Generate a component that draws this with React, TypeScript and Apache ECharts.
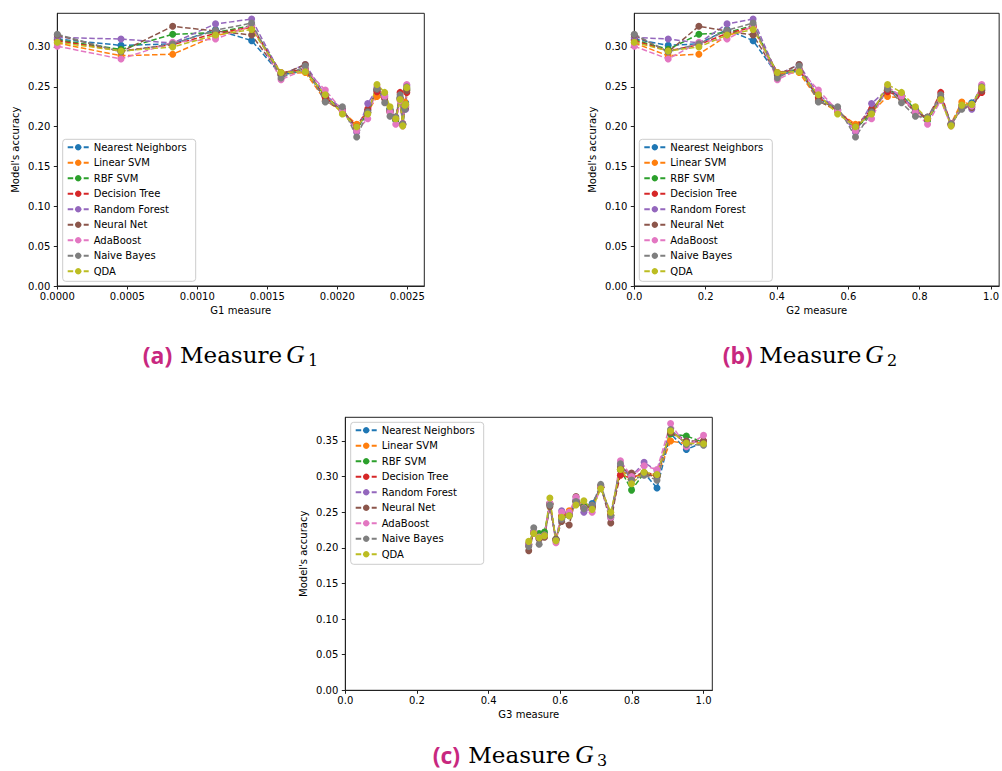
import React, { useEffect, useRef } from "react";
import * as echarts from "echarts";

// ---- categories / series ----
const seriesNames = [
  "Nearest Neighbors",
  "Linear SVM",
  "RBF SVM",
  "Decision Tree",
  "Random Forest",
  "Neural Net",
  "AdaBoost",
  "Naive Bayes",
  "QDA",
];
const seriesColors = ["#1f77b4", "#ff7f0e", "#2ca02c", "#d62728", "#9467bd", "#8c564b", "#e377c2", "#7f7f7f", "#bcbd22"];

// ---- x values (measures) ----
const g1Measure = [0, 0.000455, 0.000824, 0.00113, 0.001388, 0.001598, 0.001771, 0.001914, 0.002036, 0.002138, 0.002217, 0.002283, 0.002338, 0.002376, 0.002417, 0.002448, 0.002467, 0.002482, 0.002488, 0.002496];
const g2Measure = [0, 0.095, 0.181, 0.26, 0.333, 0.401, 0.462, 0.516, 0.57, 0.62, 0.665, 0.71, 0.749, 0.788, 0.822, 0.859, 0.888, 0.918, 0.946, 0.974];
const g3Measure = [0.512, 0.526, 0.541, 0.556, 0.571, 0.588, 0.604, 0.625, 0.644, 0.666, 0.689, 0.713, 0.741, 0.768, 0.799, 0.834, 0.87, 0.908, 0.952, 1.0];

// ---- accuracy values for G1 / G2 (same points, different measure) ----
const accNearestNeighborsG12 = [0.31, 0.302, 0.304, 0.322, 0.308, 0.265, 0.27, 0.236, 0.22, 0.196, 0.22, 0.245, 0.238, 0.222, 0.209, 0.236, 0.203, 0.226, 0.23, 0.248];
const accLinearSVMG12 = [0.305, 0.289, 0.291, 0.314, 0.325, 0.266, 0.268, 0.233, 0.219, 0.203, 0.218, 0.238, 0.236, 0.22, 0.21, 0.234, 0.204, 0.231, 0.228, 0.247];
const accRBFSVMG12 = [0.309, 0.297, 0.316, 0.318, 0.327, 0.267, 0.272, 0.238, 0.221, 0.197, 0.217, 0.246, 0.24, 0.221, 0.208, 0.235, 0.203, 0.226, 0.227, 0.246];
const accDecisionTreeG12 = [0.308, 0.295, 0.303, 0.317, 0.325, 0.268, 0.272, 0.237, 0.22, 0.2, 0.222, 0.244, 0.237, 0.219, 0.21, 0.243, 0.202, 0.225, 0.225, 0.243];
const accRandomForestG12 = [0.312, 0.31, 0.305, 0.329, 0.335, 0.265, 0.278, 0.24, 0.222, 0.193, 0.229, 0.247, 0.239, 0.22, 0.211, 0.235, 0.204, 0.224, 0.222, 0.252];
const accNeuralNetG12 = [0.315, 0.294, 0.326, 0.32, 0.315, 0.265, 0.278, 0.232, 0.221, 0.198, 0.22, 0.247, 0.235, 0.218, 0.212, 0.237, 0.203, 0.224, 0.224, 0.245];
const accAdaBoostG12 = [0.301, 0.285, 0.306, 0.31, 0.327, 0.259, 0.272, 0.246, 0.22, 0.195, 0.21, 0.25, 0.238, 0.218, 0.203, 0.233, 0.201, 0.226, 0.226, 0.253];
const accNaiveBayesG12 = [0.316, 0.294, 0.304, 0.321, 0.33, 0.261, 0.276, 0.231, 0.225, 0.187, 0.218, 0.248, 0.23, 0.213, 0.212, 0.24, 0.203, 0.222, 0.228, 0.25];
const accQDAG12 = [0.306, 0.295, 0.3, 0.315, 0.322, 0.268, 0.269, 0.24, 0.216, 0.2, 0.216, 0.253, 0.243, 0.225, 0.21, 0.234, 0.201, 0.227, 0.228, 0.249];

// ---- accuracy values for G3 ----
const accNearestNeighborsG3 = [0.205, 0.222, 0.215, 0.218, 0.262, 0.212, 0.244, 0.246, 0.265, 0.258, 0.262, 0.285, 0.245, 0.31, 0.298, 0.305, 0.284, 0.36, 0.338, 0.348];
const accLinearSVMG3 = [0.205, 0.222, 0.214, 0.218, 0.262, 0.212, 0.245, 0.252, 0.265, 0.258, 0.258, 0.285, 0.246, 0.31, 0.298, 0.305, 0.3, 0.35, 0.346, 0.348];
const accRBFSVMG3 = [0.205, 0.222, 0.22, 0.222, 0.262, 0.212, 0.24, 0.246, 0.265, 0.258, 0.258, 0.285, 0.245, 0.31, 0.281, 0.305, 0.302, 0.36, 0.357, 0.348];
const accDecisionTreeG3 = [0.203, 0.221, 0.214, 0.216, 0.261, 0.211, 0.244, 0.247, 0.266, 0.256, 0.258, 0.285, 0.246, 0.302, 0.298, 0.305, 0.303, 0.362, 0.348, 0.35];
const accRandomForestG3 = [0.204, 0.222, 0.213, 0.217, 0.261, 0.211, 0.252, 0.248, 0.268, 0.25, 0.256, 0.286, 0.242, 0.315, 0.3, 0.32, 0.308, 0.365, 0.35, 0.348];
const accNeuralNetG3 = [0.196, 0.221, 0.212, 0.215, 0.258, 0.212, 0.237, 0.232, 0.272, 0.256, 0.257, 0.287, 0.235, 0.312, 0.305, 0.303, 0.3, 0.362, 0.35, 0.35];
const accAdaBoostG3 = [0.205, 0.223, 0.215, 0.218, 0.263, 0.207, 0.25, 0.25, 0.271, 0.256, 0.25, 0.286, 0.243, 0.322, 0.3, 0.315, 0.31, 0.3745, 0.342, 0.358];
const accNaiveBayesG3 = [0.202, 0.228, 0.205, 0.218, 0.26, 0.211, 0.24, 0.245, 0.265, 0.255, 0.26, 0.289, 0.245, 0.318, 0.295, 0.302, 0.295, 0.366, 0.345, 0.344];
const accQDAG3 = [0.209, 0.22, 0.214, 0.217, 0.27, 0.21, 0.243, 0.245, 0.26, 0.266, 0.254, 0.283, 0.25, 0.31, 0.29, 0.306, 0.303, 0.364, 0.347, 0.346];

// ---- tick labels ----
const g1Ticks = [0, 0.0005, 0.001, 0.0015, 0.002, 0.0025];
const unitTicks = [0, 0.2, 0.4, 0.6, 0.8, 1.0];
const accTicksAB = [0, 0.05, 0.1, 0.15, 0.2, 0.25, 0.3];
const accTicksC = [0, 0.05, 0.1, 0.15, 0.2, 0.25, 0.3, 0.35];

const accG12 = [accNearestNeighborsG12, accLinearSVMG12, accRBFSVMG12, accDecisionTreeG12, accRandomForestG12, accNeuralNetG12, accAdaBoostG12, accNaiveBayesG12, accQDAG12];
const accG3 = [accNearestNeighborsG3, accLinearSVMG3, accRBFSVMG3, accDecisionTreeG3, accRandomForestG3, accNeuralNetG3, accAdaBoostG3, accNaiveBayesG3, accQDAG3];

const FONT = "DejaVu Sans";
const AXIS_COLOR = "#222";

function makeX(gridIndex: number, max: number, ticks: number[], digits: number, name: string) {
  return {
    type: "value",
    gridIndex,
    min: 0,
    max,
    name,
    nameLocation: "middle",
    nameGap: 19,
    nameTextStyle: { fontFamily: FONT, fontSize: 10, color: "#000" },
    axisLine: { show: true, onZero: false, lineStyle: { color: AXIS_COLOR, width: 1 } },
    axisTick: { show: true, inside: false, length: 3.5, customValues: ticks, lineStyle: { color: AXIS_COLOR, width: 1 } },
    axisLabel: {
      show: true,
      margin: 5,
      customValues: ticks,
      fontFamily: FONT,
      fontSize: 10,
      color: "#000",
      formatter: (v: number) => v.toFixed(digits),
    },
    splitLine: { show: false },
  };
}

function makeY(gridIndex: number, max: number, ticks: number[]) {
  return {
    type: "value",
    gridIndex,
    min: 0,
    max,
    name: "Model's accuracy",
    nameLocation: "middle",
    nameGap: 37,
    nameTextStyle: { fontFamily: FONT, fontSize: 10, color: "#000" },
    axisLine: { show: true, onZero: false, lineStyle: { color: AXIS_COLOR, width: 1 } },
    axisTick: { show: true, inside: false, length: 3.5, customValues: ticks, lineStyle: { color: AXIS_COLOR, width: 1 } },
    axisLabel: {
      show: true,
      margin: 7,
      customValues: ticks,
      fontFamily: FONT,
      fontSize: 10,
      color: "#000",
      formatter: (v: number) => v.toFixed(2),
    },
    splitLine: { show: false },
  };
}

function makeLegend(left: number, top: number) {
  return {
    show: true,
    orient: "vertical",
    left,
    top,
    data: seriesNames,
    selectedMode: false,
    itemWidth: 21,
    itemHeight: 8,
    itemGap: 5.5,
    padding: [3, 9, 5, 4],
    backgroundColor: "rgba(255,255,255,0.8)",
    borderColor: "#cccccc",
    borderWidth: 1,
    borderRadius: 3,
    textStyle: { fontFamily: FONT, fontSize: 10, color: "#000", lineHeight: 10 },
  };
}

function makeSeries(xs: number[], acc: number[][], axisIndex: number) {
  return seriesNames.map((name, k) => ({
    type: "line",
    name,
    xAxisIndex: axisIndex,
    yAxisIndex: axisIndex,
    data: xs.map((x, i) => [x, acc[k][i]]),
    symbol: "circle",
    symbolSize: 7,
    showSymbol: true,
    lineStyle: { color: seriesColors[k], width: 1.5, type: [5.5, 2.5] },
    itemStyle: { color: seriesColors[k] },
    emphasis: { disabled: true },
  }));
}

function caption(letter: string, sub: string, x0: number, xMeasure: number, xG: number, baseline: number) {
  const magenta = "#c8287f";
  return [
    {
      type: "text",
      x: x0,
      y: baseline - 7.5,
      style: { text: letter, fontFamily: "Open Sans", fontWeight: "bold", fontSize: 23, lineHeight: 23, fill: magenta, textAlign: "left", textVerticalAlign: "middle" },
    },
    {
      type: "text",
      x: xMeasure,
      y: baseline - 7.5,
      style: { text: "Measure", fontFamily: "DejaVu Serif", fontSize: 23, lineHeight: 23, fill: "#000", textAlign: "left", textVerticalAlign: "middle" },
    },
    {
      type: "text",
      x: xG,
      y: baseline - 8,
      style: { text: "G", fontFamily: "Liberation Serif", fontStyle: "italic", fontSize: 26, lineHeight: 26, fill: "#000", textAlign: "left", textVerticalAlign: "middle" },
    },
    {
      type: "text",
      x: xG + 22,
      y: baseline - 2,
      style: { text: sub, fontFamily: "DejaVu Serif", fontSize: 16, lineHeight: 16, fill: "#000", textAlign: "left", textVerticalAlign: "middle" },
    },
  ];
}

export default function App() {
  const ref = useRef<HTMLDivElement>(null);
  useEffect(() => {
    if (!ref.current) return;
    const chart = echarts.init(ref.current, undefined, { renderer: "svg" });
    const gridStyle = { show: true, borderColor: AXIS_COLOR, borderWidth: 1, backgroundColor: "transparent", containLabel: false };
    chart.setOption({
      animation: false,
      backgroundColor: "#ffffff",
      grid: [
        { ...gridStyle, left: 57.3, top: 13.3, width: 367, height: 272.7 },
        { ...gridStyle, left: 634.3, top: 13.3, width: 367, height: 272.7 },
        { ...gridStyle, left: 345.3, top: 417.3, width: 367, height: 273 },
      ],
      xAxis: [
        makeX(0, 0.002621, g1Ticks, 4, "G1 measure"),
        makeX(1, 1.0227, unitTicks, 1, "G2 measure"),
        makeX(2, 1.0244, unitTicks, 1, "G3 measure"),
      ],
      yAxis: [makeY(0, 0.3423, accTicksAB), makeY(1, 0.3423, accTicksAB), makeY(2, 0.3832, accTicksC)],
      legend: [makeLegend(62.7, 139.3), makeLegend(639.3, 139.3), makeLegend(350.7, 422.3)],
      series: [
        ...makeSeries(g1Measure, accG12, 0),
        ...makeSeries(g2Measure, accG12, 1),
        ...makeSeries(g3Measure, accG3, 2),
      ],
      graphic: [
        ...caption("(a)", "1", 142.7, 180, 286, 362.7),
        ...caption("(b)", "2", 722.7, 759.3, 865, 362.7),
        ...caption("(c)", "3", 432.7, 468.3, 575, 762),
      ],
    });
    return () => chart.dispose();
  }, []);
  return <div ref={ref} style={{ position: "absolute", left: 0, top: 0, width: 1002, height: 771 }} />;
}
